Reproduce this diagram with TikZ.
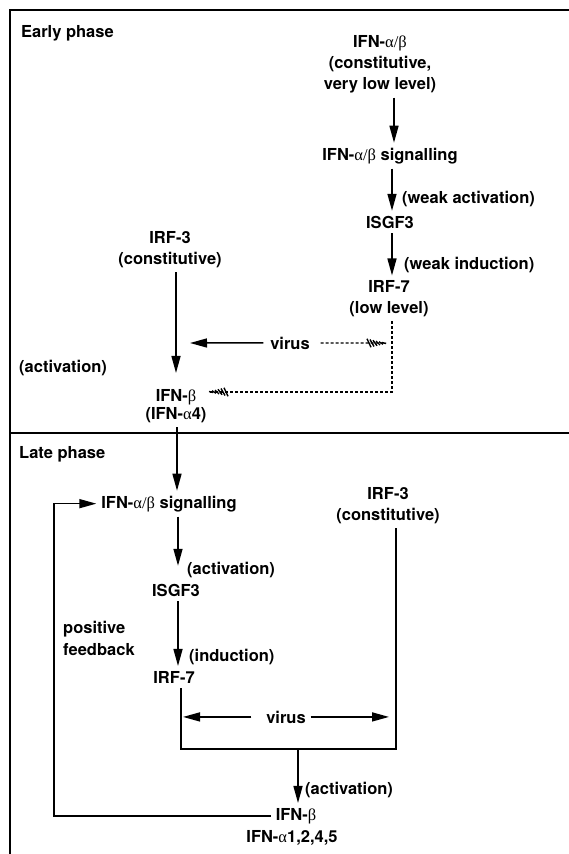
\documentclass[tikz,border=0pt]{standalone}
\usepackage{fontspec}
\setmainfont{TeX Gyre Heros}
\newfontfamily\grk{Liberation Serif}
\usetikzlibrary{arrows.meta,calc}
\newcommand{\galpha}{{\grk\mdseries α}}
\newcommand{\gbeta}{{\grk\mdseries β}}
\newcommand{\galbe}{{\grk\mdseries α/β}}

\begin{document}
\begin{tikzpicture}[x=1pt,y=-1pt]
  \tikzstyle{every node}+=[inner sep=0pt, font=\fontsize{16.5}{20.5}\selectfont\bfseries]
  \tikzstyle{term}=[anchor=base, align=center, outer sep=5pt]
  \tikzstyle{note}=[anchor=base west, align=left]
  \tikzstyle{arr}=[line width=1.5pt, -{Triangle[length=17pt,width=9pt]}]
  \tikzstyle{link}=[line width=1.5pt]
  \tikzstyle{weak}=[line width=1.3pt, dash pattern=on 3pt off 2pt]
  \useasboundingbox (0,0) rectangle (569,854);
  \draw [link] (10,854) -- (10,10) -- (569,10);
  \draw [link] (10,433) -- (569,433);

  \node [note] (early) at (21,37) {Early phase};
  \node [term] (ifnE) at (380,89) {IFN-\galbe\\[1pt](constitutive,\\very low level)};
  \node [term] (sigE) at (390,160) {IFN-\galbe{} signalling};
  \node [note] (wact) at (402,203) {(weak activation)};
  \node [term] (isgfE) at (390,228) {ISGF3};
  \node [note] (wind) at (404,269) {(weak induction)};
  \node [term] (irf7E) at (389,313) {IRF-7\\(low level)};
  \node [term] (irf3E) at (170,264) {IRF-3\\(constitutive)};
  \node [note] (actE) at (19,372) {(activation)};
  \node [term] (ifnbE) at (176,401) {IFN-\gbeta};
  \node [term] (a4E) at (176,419) {(IFN-\galpha4)};
  \node [term] (virusE) at (290,349) {virus};
  \coordinate (vtipE) at (190,343);
  \coordinate (dcorner) at (392,392);
  \coordinate (hr) at (386,343);
  \coordinate (hl) at (209,392);

  \draw [arr] (ifnE.south -| 394,0) -- (sigE.north -| 394,0);
  \draw [arr] (sigE.south -| 392,0) -- (isgfE.north -| 392,0);
  \draw [arr] (isgfE.south -| 392,0) -- (irf7E.north -| 392,0);
  \draw [arr, shorten >=11pt] (irf3E.south -| ifnbE) -- (ifnbE.north);
  \draw [arr, shorten <=2pt] (virusE.west) -- (vtipE);
  \draw [weak, shorten <=6pt] (virusE.east) -- (hr);
  \draw [weak] (irf7E.south -| dcorner) -- (dcorner) -- (hl);
  \foreach \d in {2,5,8,11,14,17}
    \draw [line width=1.4pt] ($(hr)+(-\d-2,-0.25*\d)$) -- ($(hr)+(-\d+2,0.25*\d)$);
  \foreach \d in {2,5,8,11,14,17}
    \draw [line width=1.4pt] ($(hl)+(\d-2,-0.25*\d)$) -- ($(hl)+(\d+2,0.25*\d)$);

  \node [note] (late) at (19,458) {Late phase};
  \node [term] (sigL) at (169,508) {IFN-\galbe{} signalling};
  \node [note] (actL) at (187,574) {(activation)};
  \node [term] (isgfL) at (176,596) {ISGF3};
  \node [note] (fb) at (63,655) {positive\\[1.5pt]feedback};
  \node [note] (indL) at (189,661) {(induction)};
  \node [term] (irf7L) at (174,683) {IRF-7};
  \node [term] (irf3L) at (388,520) {IRF-3\\(constitutive)};
  \node [term] (virusL) at (286,723) {virus};
  \node [note] (actL2) at (305,794) {(activation)};
  \node [term] (ifnbL) at (296,820) {IFN-\gbeta};
  \node [term] (alphaL) at (292,842) {IFN-\galpha1,2,4,5};
  \coordinate (barl) at (181,749);
  \coordinate (barr) at (396,749);
  \coordinate (barm) at (298,749);
  \coordinate (fbx) at (54,0);

  \draw [arr] (a4E.south -| 177,0) -- (sigL.north -| 177,0);
  \draw [arr, shorten >=13pt] (sigL.south -| 178,0) -- (isgfL.north -| 178,0);
  \draw [arr] (isgfL.south -| 178,0) -- (irf7L.north -| 178,0);
  \draw [link] (irf7L.south -| barl) -- (barl) -- (barr) -- (irf3L.south -| barr);
  \draw [arr, shorten <=10pt, shorten >=2pt] (virusL.west) -- (barl |- virusL.west);
  \draw [arr, shorten >=7pt] (virusL.east) -- (barr |- virusL.east);
  \draw [arr] (barm) -- (barm |- ifnbL.north);
  \draw [arr] (ifnbL.west) -- (ifnbL.west -| fbx) |- (sigL.west);
\end{tikzpicture}
\end{document}
